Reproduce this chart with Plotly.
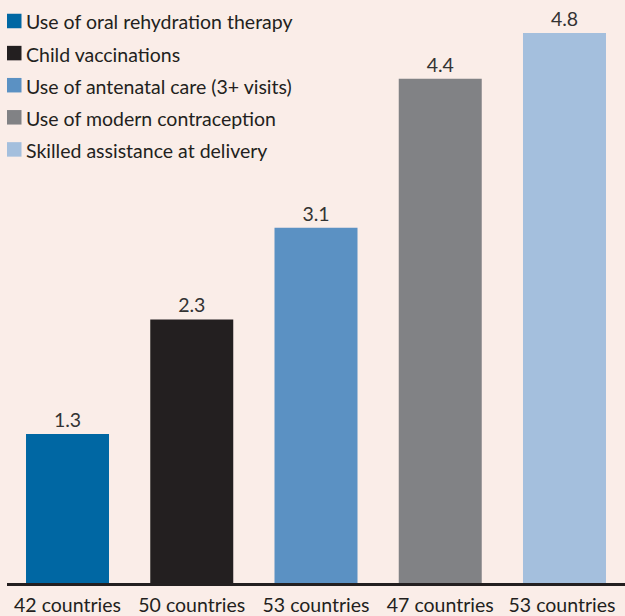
import plotly.graph_objects as go

# ---- data ----
categories = ["42 countries", "50 countries", "53 countries", "47 countries", "53 countries "]
values = [1.3, 2.3, 3.1, 4.4, 4.8]
series_names = [
    "Use of oral rehydration therapy",
    "Child vaccinations",
    "Use of antenatal care (3+ visits)",
    "Use of modern contraception",
    "Skilled assistance at delivery",
]
colors = ["#0067A3", "#231F20", "#5B91C3", "#818285", "#A4BFDD"]

# ---- layout constants ----
W, H = 625, 616
ML, MR, MT, MB = 7, 0, 0, 33
PW, PH = W - ML - MR, H - MT - MB
BG = "#FAEDE8"
TXT = "#231F20"
FONT = "Lato"
FS = 19.5

def px_x(px):
    return (px - ML) / PW

def px_y(py):
    return 1 - (py - MT) / PH

fig = go.Figure()
fig.add_trace(go.Bar(
    x=list(range(len(values))),
    y=values,
    marker=dict(color=colors, line=dict(width=0)),
    text=[f"{v:.1f}" for v in values],
    textposition="outside",
    textfont=dict(family=FONT, size=FS, color="#333333"),
    cliponaxis=False,
    showlegend=False,
    hoverinfo="skip",
))

shapes = []
annotations = []
row0, step, sq = 21, 32.1, 14.5
for i, (name, c) in enumerate(zip(series_names, colors)):
    cy = row0 + i * step
    shapes.append(dict(type="rect", xref="paper", yref="paper",
                       x0=px_x(7), x1=px_x(7 + sq),
                       y0=px_y(cy - sq / 2), y1=px_y(cy + sq / 2),
                       fillcolor=c, line=dict(width=0), layer="above"))
    annotations.append(dict(text=name, xref="paper", yref="paper",
                            x=px_x(24), y=px_y(cy + 1), xanchor="left", yanchor="middle",
                            showarrow=False, font=dict(family=FONT, size=FS, color=TXT)))

fig.update_layout(
    width=W, height=H,
    margin=dict(l=ML, r=MR, t=MT, b=MB, pad=0),
    paper_bgcolor=BG, plot_bgcolor=BG,
    bargap=0.332,
    shapes=shapes,
    annotations=annotations,
    xaxis=dict(
        range=[-0.487, 4.487],
        tickmode="array", tickvals=list(range(len(categories))), ticktext=categories,
        showgrid=False, zeroline=False,
        showline=True, linecolor=TXT, linewidth=3,
        ticks="", ticklabelstandoff=3,
        tickfont=dict(family=FONT, size=FS, color=TXT),
        fixedrange=True,
    ),
    yaxis=dict(
        range=[0, 5.088], visible=False, showgrid=False, zeroline=False, fixedrange=True,
    ),
)

fig.write_html(
    "out.html",
    config={"displayModeBar": False, "staticPlot": True},
    post_script="document.body.style.margin='0';document.body.style.overflow='hidden';",
)
